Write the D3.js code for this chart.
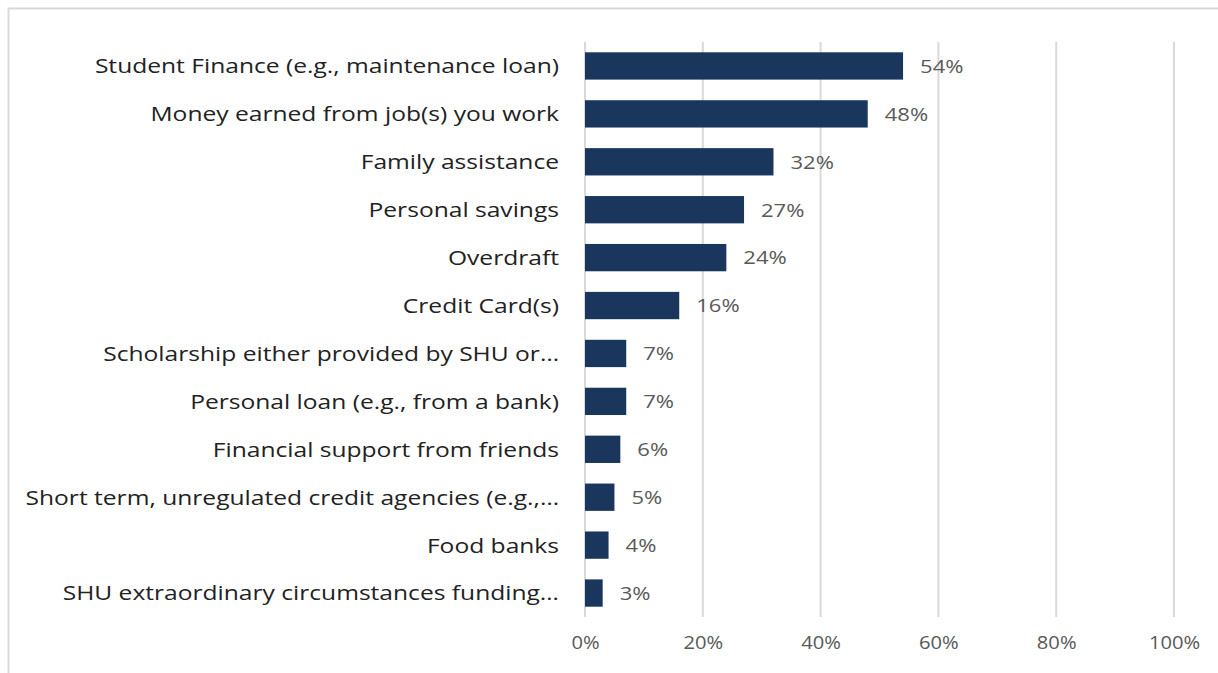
<!DOCTYPE html>
<html>
<head>
<meta charset="utf-8">
<script src="https://cdn.jsdelivr.net/npm/d3@7"></script>
<style>
  body { margin: 0; background: #fff; }
  svg { display: block; font-family: "Open Sans", "Noto Sans", sans-serif; }
</style>
</head>
<body>
<svg id="chart" width="1218" height="673"></svg>
<script>
// categories top to bottom, values in percent
var categories = [
  "Student Finance (e.g., maintenance loan)",
  "Money earned from job(s) you work",
  "Family assistance",
  "Personal savings",
  "Overdraft",
  "Credit Card(s)",
  "Scholarship either provided by SHU or…",
  "Personal loan (e.g., from a bank)",
  "Financial support from friends",
  "Short term, unregulated credit agencies (e.g.,…",
  "Food banks",
  "SHU extraordinary circumstances funding…"
];
var values = [54, 48, 32, 27, 24, 16, 7, 7, 6, 5, 4, 3];
var ticks = [0, 20, 40, 60, 80, 100];

var svg = d3.select("#chart");

// outer border of the chart area (cut off at right/bottom like the picture)
svg.append("rect")
  .attr("x", 8.5).attr("y", 8.5)
  .attr("width", 1230).attr("height", 700)
  .attr("fill", "none")
  .attr("stroke", "#d9d9d9")
  .attr("stroke-width", 2);

var x = d3.scaleLinear().domain([0, 100]).range([585, 1174]);
var y = d3.scaleBand().domain(categories).range([42, 617]).paddingInner(0.43).paddingOuter(0.215);

var g = svg.append("g");

// gridlines
g.selectAll("line.grid")
  .data(ticks)
  .enter().append("line")
  .attr("class", "grid")
  .attr("x1", d => x(d)).attr("x2", d => x(d))
  .attr("y1", 42).attr("y2", 617)
  .attr("stroke", "#d9d9d9")
  .attr("stroke-width", 2);

// bars
g.selectAll("rect.bar")
  .data(values)
  .enter().append("rect")
  .attr("class", "bar")
  .attr("x", x(0))
  .attr("y", (d, i) => y(categories[i]))
  .attr("width", d => x(d) - x(0))
  .attr("height", y.bandwidth())
  .attr("fill", "#1a365d");

// value labels (text in the picture is a bit stretched sideways)
g.selectAll("text.val")
  .data(values)
  .enter().append("text")
  .attr("class", "val")
  .attr("transform", (d, i) => "translate(" + (x(d) + 17) + "," + (y(categories[i]) + y.bandwidth() / 2) + ") scale(1.16,1)")
  .attr("dy", "0.36em")
  .attr("font-size", 19)
  .attr("fill", "#595959")
  .text(d => d + "%");

// category labels
g.selectAll("text.cat")
  .data(categories)
  .enter().append("text")
  .attr("class", "cat")
  .attr("transform", d => "translate(559," + (y(d) + y.bandwidth() / 2) + ") scale(1.2,1)")
  .attr("dy", "0.36em")
  .attr("text-anchor", "end")
  .attr("font-size", 20.5)
  .attr("fill", "#222")
  .text(d => d);

// x axis labels
var axis = d3.axisBottom(x).tickValues(ticks).tickSize(0).tickPadding(0).tickFormat(d => d + "%");
var ax = svg.append("g").attr("transform", "translate(0,643)").call(axis);
ax.select(".domain").remove();
ax.selectAll("text")
  .attr("dy", "0.36em")
  .attr("y", 0)
  .attr("transform", "scale(1.12,1)")
  .attr("font-size", 18)
  .attr("font-family", "\"Open Sans\", \"Noto Sans\", sans-serif")
  .attr("fill", "#595959");
</script>
</body>
</html>
